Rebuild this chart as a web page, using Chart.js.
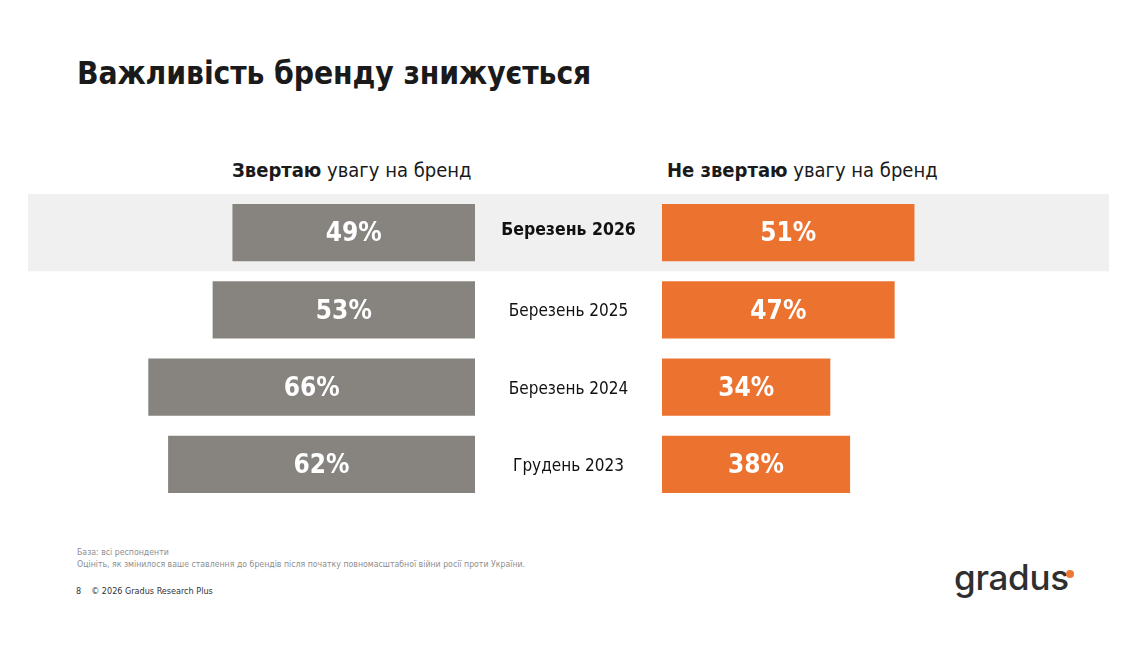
<!DOCTYPE html>
<html lang="uk">
<head>
<meta charset="utf-8">
<script src="https://cdn.jsdelivr.net/npm/chart.js@4"></script>
<style>
  body { margin: 0; width: 1141px; height: 654px; background: #fff; position: relative; overflow: hidden;
         font-family: "DejaVu Sans Condensed", "DejaVu Sans", sans-serif; color: #1a1a1a; }
  h1 { position: absolute; left: 77px; top: 55px; margin: 0; font-size: 31.5px; font-weight: bold; letter-spacing: -0.1px; }
  .head { position: absolute; top: 158px; font-size: 20px; white-space: nowrap; }
  .wrap { position: absolute; top: 194px; height: 309px; }
  #left-wrap { left: 28px; width: 634px; }
  #right-wrap { left: 662px; width: 447px; }
  .note { position: absolute; left: 77px; top: 547px; font-size: 8.7px; line-height: 11.5px; color: #8e8e8e; white-space: nowrap; }
  .foot { position: absolute; left: 76px; top: 586px; font-size: 9px; color: #333; white-space: nowrap; }
  .foot span { margin-left: 10px; }
  .logo { position: absolute; left: 954px; top: 556px; font-family: Inter, sans-serif; font-weight: 500;
          font-size: 35px; color: #2f2f2f; letter-spacing: -0.3px; }
  .dot { position: absolute; left: 1066px; top: 570px; width: 8px; height: 8px; border-radius: 50%; background: #ec7a35; }
</style>
</head>
<body>
<h1>Важливість бренду знижується</h1>
<div class="head" style="left:232px"><b>Звертаю</b> увагу на бренд</div>
<div class="head" style="left:667px"><b>Не звертаю</b> увагу на бренд</div>

<div class="wrap" id="left-wrap"><canvas id="chart-left"></canvas></div>
<div class="wrap" id="right-wrap"><canvas id="chart-right"></canvas></div>

<div class="note">База: всі респонденти<br>Оцініть, як змінилося ваше ставлення до брендів після початку повномасштабної війни росії проти України.</div>
<div class="foot">8<span>© 2026 Gradus Research Plus</span></div>
<div class="logo">gradus</div>
<div class="dot"></div>

<script>
const periods = ['Березень 2026', 'Березень 2025', 'Березень 2024', 'Грудень 2023'];
const payAttention = [49, 53, 66, 62];
const noAttention = [51, 47, 34, 38];
const highlightIndex = 0;
const axisMax = 90.3;

const GREY = '#878480';
const ORANGE = '#ec7230';
const BAND = '#f0f0f0';

// light band behind the latest period, across the full canvas width
const bandPlugin = {
  id: 'band',
  beforeDatasetsDraw(chart) {
    const area = chart.chartArea;
    const rowH = (area.bottom - area.top) / periods.length;
    const y = chart.scales.y.getPixelForValue(highlightIndex) - rowH / 2;
    const ctx = chart.ctx;
    ctx.save();
    ctx.fillStyle = BAND;
    ctx.fillRect(0, y, chart.width, rowH);
    ctx.restore();
  }
};

const valuePlugin = {
  id: 'values',
  afterDatasetsDraw(chart) {
    const ctx = chart.ctx;
    ctx.save();
    ctx.fillStyle = '#fff';
    ctx.font = 'bold 26px "DejaVu Sans Condensed", "DejaVu Sans", sans-serif';
    ctx.textAlign = 'center';
    ctx.textBaseline = 'middle';
    chart.getDatasetMeta(0).data.forEach((bar, i) => {
      const v = chart.data.datasets[0].data[i];
      ctx.fillText(v + '%', (bar.x + bar.base) / 2, bar.y + 2);
    });
    ctx.restore();
  }
};

const periodPlugin = {
  id: 'periods',
  afterDatasetsDraw(chart) {
    const ctx = chart.ctx;
    const area = chart.chartArea;
    const cx = area.right + (chart.width - area.right) / 2;
    ctx.save();
    ctx.fillStyle = '#111';
    ctx.textAlign = 'center';
    ctx.textBaseline = 'middle';
    periods.forEach((p, i) => {
      ctx.font = (i === highlightIndex ? 'bold 17.5px ' : '17px ') + '"DejaVu Sans Condensed", "DejaVu Sans", sans-serif';
      ctx.fillText(p, cx, chart.scales.y.getPixelForValue(i) + (i === highlightIndex ? -2 : 2));
    });
    ctx.restore();
  }
};

function createSideChart(canvasId, values, color, reverse, extraPlugins, padRight) {
  const ctx = document.getElementById(canvasId).getContext('2d');
  return new Chart(ctx, {
    type: 'bar',
    data: {
      labels: periods,
      datasets: [{
        data: values,
        backgroundColor: color,
        borderWidth: 0,
        categoryPercentage: 1,
        barPercentage: 0.74
      }]
    },
    options: {
      indexAxis: 'y',
      responsive: true,
      maintainAspectRatio: false,
      animation: false,
      layout: { padding: { left: 0, right: padRight, top: 0, bottom: 0 } },
      plugins: {
        legend: { display: false },
        tooltip: { enabled: false }
      },
      scales: {
        x: { display: false, min: 0, max: axisMax, reverse: reverse },
        y: { display: false }
      }
    },
    plugins: [bandPlugin, valuePlugin].concat(extraPlugins)
  });
}

createSideChart('chart-left', payAttention, GREY, true, [periodPlugin], 187);
createSideChart('chart-right', noAttention, ORANGE, false, [], 0);
</script>
</body>
</html>
